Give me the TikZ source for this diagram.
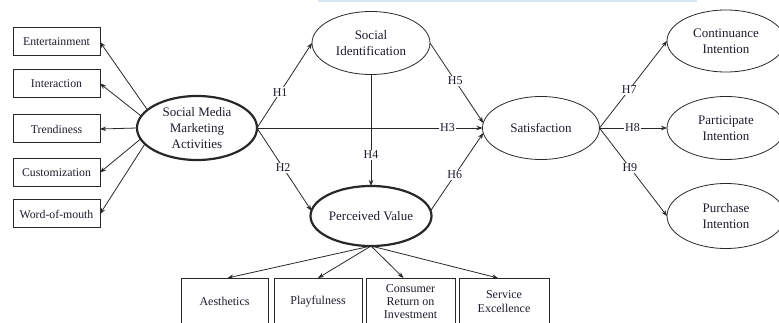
\documentclass[tikz,border=0pt]{standalone}
\usepackage{fontspec}
\setmainfont{Liberation Serif}
\usetikzlibrary{shapes.geometric,arrows.meta}
\definecolor{ink}{RGB}{28,28,45}
\definecolor{linec}{RGB}{40,40,40}
\definecolor{barblue}{RGB}{214,230,245}
\begin{document}
\begin{tikzpicture}[x=1pt,y=-1pt,
  ell/.style={ellipse, draw=linec, inner sep=0pt, outer sep=0pt, align=center, text=ink,
              font=\fontsize{13}{15.7}\selectfont, line width=0.8pt},
  thickell/.style={ell, line width=2.2pt},
  lbox/.style={rectangle, draw=linec, line width=1pt, minimum width=87pt, minimum height=28pt,
               inner sep=0pt, outer sep=0pt, text=ink, font=\fontsize{11.8}{14}\selectfont},
  bbox/.style={rectangle, draw=linec, line width=1pt, minimum height=47pt, inner sep=0pt,
               outer sep=0pt, align=center, text=ink, font=\fontsize{12}{13.3}\selectfont},
  conn/.style={draw=linec, -{Stealth[length=6pt,width=4.5pt]}, line width=0.8pt},
  hlab/.style={fill=white, inner sep=1pt, text=ink, font=\fontsize{12}{14}\selectfont}]
\useasboundingbox (0,0) rectangle (779,323);
\clip (0,0) rectangle (779,323);
\fill[barblue] (318,0) rectangle (697,2.5);

% ellipses
\node[thickell, minimum width=120pt, minimum height=64pt] (smma) at (197,128) {Social Media\\Marketing\\Activities};
\node[ell, minimum width=118pt, minimum height=63pt] (si) at (371,43) {Social\\Identification};
\node[thickell, minimum width=121pt, minimum height=60pt] (pv) at (371,216) {Perceived Value};
\node[ell, minimum width=117pt, minimum height=63pt] (sat) at (541,128) {Satisfaction};
\node[ell, minimum width=118pt, minimum height=62pt] (cont) at (726,41) {Continuance\\Intention};
\node[ell, minimum width=118pt, minimum height=63pt] (part) at (726,128) {Participate\\Intention};
\node[ell, minimum width=118pt, minimum height=65pt] (purch) at (726,216) {Purchase\\Intention};

% left boxes
\node[lbox] (ent) at (56.5,42) {Entertainment};
\node[lbox] (int) at (56.5,83.5) {Interaction};
\node[lbox] (tre) at (56.5,129) {Trendiness};
\node[lbox] (cus) at (56.5,172.5) {Customization};
\node[lbox] (wom) at (56.5,214) {Word-of-mouth};

% bottom boxes
\node[bbox, minimum width=87pt] (aes) at (224.5,301.5) {Aesthetics};
\node[bbox, minimum width=88pt] (pla) at (318,301.5) {Playfulness};
\node[bbox, minimum width=89pt] (con) at (410.5,301.5) {Consumer\\Return on\\Investment};
\node[bbox, minimum width=90pt] (ser) at (504,301.5) {Service\\Excellence};

% left connectors
\draw[conn] (smma.160) -- (ent.east);
\draw[conn] (smma.168) -- (int.east);
\draw[conn] (smma.west) -- (tre.east);
\draw[conn] (smma.191) -- (cus.east);
\draw[conn] (smma.197) -- (wom.east);

% bottom connectors
\draw[conn] (pv.south) -- ([xshift=3pt]aes.north);
\draw[conn] (pv.south) -- (pla.north);
\draw[conn] (pv.south) -- ([xshift=-7pt]con.north);
\draw[conn] (pv.south) -- ([xshift=-6pt]ser.north);

% hypotheses
\draw[conn] (smma.east) -- node[hlab, pos=0.42] {H1} (si.west);
\draw[conn] (smma.east) -- node[hlab, pos=0.48] {H2} (pv.175);
\draw[conn] (smma.east) -- node[hlab, pos=0.845] {H3} (sat.west);
\draw[conn] (si.south) -- node[hlab, pos=0.72] {H4} (pv.north);
\draw[conn] (si.east) -- node[hlab, pos=0.475] {H5} (sat.175);
\draw[conn] (pv.5) -- node[hlab, pos=0.46] {H6} (sat.185);
\draw[conn] (sat.east) -- node[hlab, pos=0.44] {H7} (cont.west);
\draw[conn] (sat.east) -- node[hlab, pos=0.49] {H8} (part.west);
\draw[conn] (sat.east) -- node[hlab, pos=0.45] {H9} (purch.west);
\end{tikzpicture}
\end{document}
